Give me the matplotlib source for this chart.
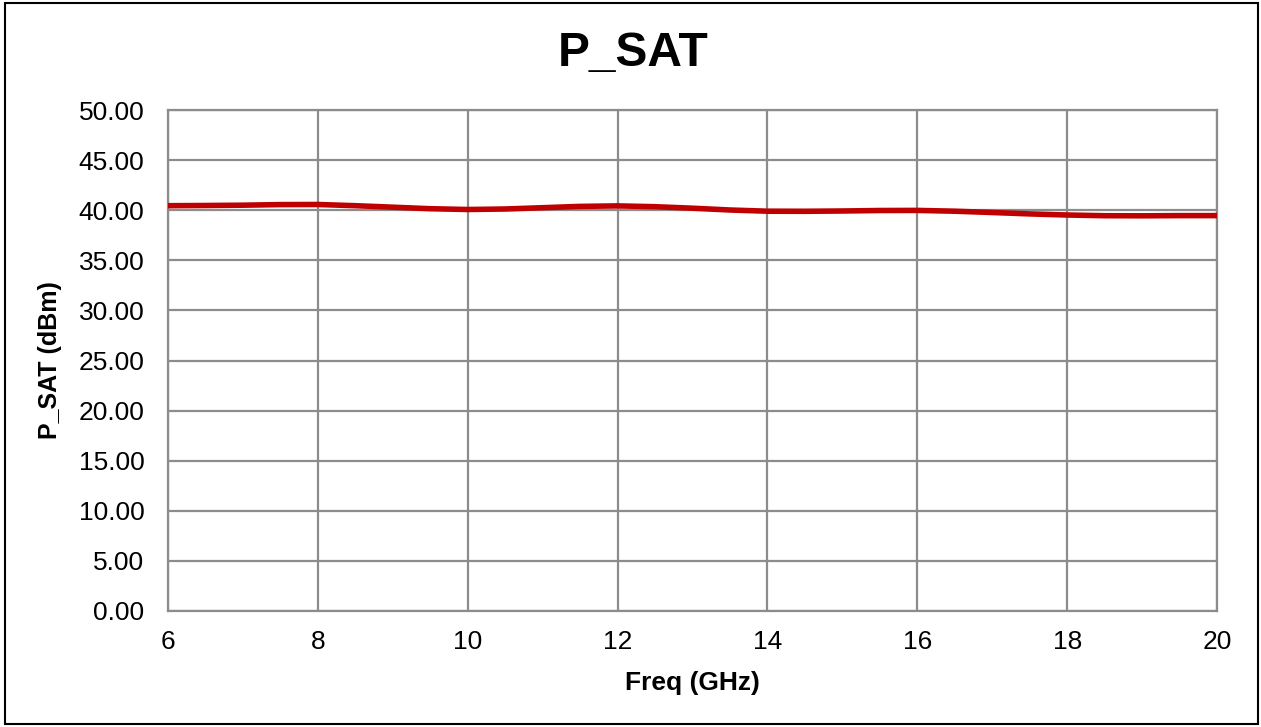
import matplotlib.pyplot as plt
from matplotlib.patches import Rectangle

plt.rcParams['font.family'] = ['Liberation Sans', 'DejaVu Sans']

# Data
freq = [6.0, 6.5, 7.0, 7.5, 8.0, 8.5, 9.0, 9.5, 10.0, 10.5, 11.0, 11.5, 12.0, 12.5,
        13.0, 13.5, 14.0, 14.5, 15.0, 15.5, 16.0, 16.5, 17.0, 17.5, 18.0, 18.5,
        19.0, 19.5, 20.0]
p_sat = [40.45, 40.47, 40.50, 40.56, 40.57, 40.45, 40.30, 40.15, 40.07, 40.12,
         40.25, 40.38, 40.43, 40.35, 40.20, 40.02, 39.90, 39.89, 39.92, 39.97,
         39.98, 39.90, 39.77, 39.63, 39.52, 39.45, 39.44, 39.46, 39.46]
x_ticks = [6, 8, 10, 12, 14, 16, 18, 20]
y_ticks = [0, 5, 10, 15, 20, 25, 30, 35, 40, 45, 50]

fig = plt.figure(figsize=(12.61, 7.27), dpi=100)
ax = fig.add_axes([168 / 1261, 1 - 611 / 727, (1217 - 168) / 1261, (611 - 110) / 727])

grid_col = '#8c8c8c'
ax.plot(freq, p_sat, color='#c00000', linewidth=4, solid_capstyle='butt', zorder=3)

ax.set_xlim(6, 20)
ax.set_ylim(0, 50)
ax.set_xticks(x_ticks)
ax.set_yticks(y_ticks)
ax.set_yticklabels(['%.2f' % v for v in y_ticks])
ax.tick_params(length=0, labelsize=19)
ax.tick_params(axis='y', pad=17)
ax.tick_params(axis='x', pad=14)
ax.grid(True, color=grid_col, linewidth=1.6)
for s in ax.spines.values():
    s.set_color(grid_col)
    s.set_linewidth(1.6)

ax.set_xlabel('Freq (GHz)', fontsize=19, fontweight='bold', labelpad=12)
ax.set_ylabel('P_SAT (dBm)', fontsize=18, fontweight='bold', labelpad=12)
fig.text(633 / 1261, 1 - 54 / 727, 'P_SAT', fontsize=34.5, fontweight='bold',
         ha='center', va='center')

# outer chart border
fig.patches.append(Rectangle((5 / 1261, 3 / 727), 1253 / 1261, 721 / 727,
                             transform=fig.transFigure, fill=False,
                             edgecolor='black', linewidth=1.5))

fig.savefig('out.png', dpi=100)
